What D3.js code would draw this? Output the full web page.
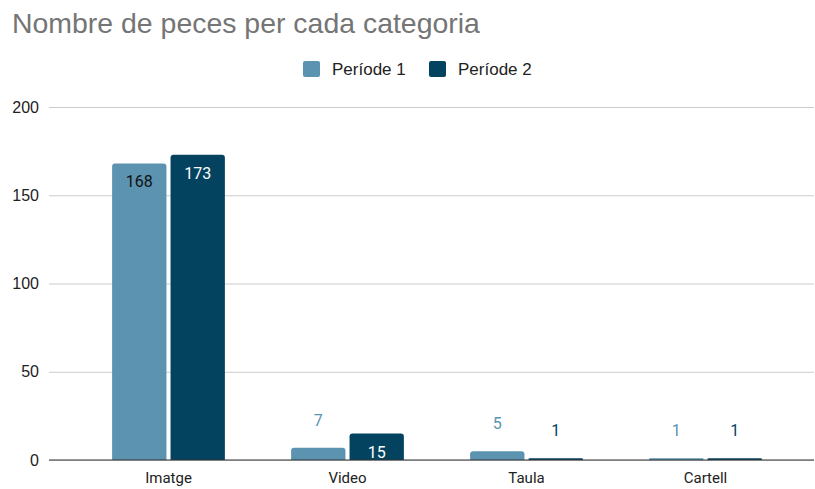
<!DOCTYPE html>
<html>
<head>
<meta charset="utf-8">
<script src="https://cdn.jsdelivr.net/npm/d3@7"></script>
<style>
  html, body { margin: 0; padding: 0; background: #fff; }
  svg { display: block; font-family: Roboto, "Noto Sans", Arial, sans-serif; }
</style>
</head>
<body>
<svg id="chart" width="815" height="489"></svg>
<script>
// Chart data
const categories = ["Imatge", "Video", "Taula", "Cartell"];
const seriesNames = ["Període 1", "Període 2"];
const periode1 = [168, 7, 5, 1];
const periode2 = [173, 15, 1, 1];
const yTicks = [0, 50, 100, 150, 200];
const colors = ["#5b93b0", "#03435f"];
const titleText = "Nombre de peces per cada categoria";

const sansFont = "'Liberation Sans', Arial, sans-serif";
const svg = d3.select("#chart");
const plot = { left: 49, right: 814, top: 107, bottom: 460 };

const y = d3.scaleLinear().domain([0, 200]).range([plot.bottom, plot.top]);
const x = d3.scaleBand().domain(categories).range([79, 795]).paddingInner(0).paddingOuter(0);
const xInner = d3.scaleBand().domain([0, 1]).range([x.bandwidth() * 0.185, x.bandwidth() * 0.815]).paddingInner(0.07);

// Title, sized to span its full header width
const title = svg.append("text")
  .attr("x", 12).attr("y", 33)
  .attr("font-family", sansFont)
  .attr("font-size", 25).attr("fill", "#757575")
  .text(titleText);
const titleLen = title.node().getComputedTextLength();
if (titleLen > 0) title.attr("font-size", 25 * 468 / titleLen);

// Legend
const legend = svg.append("g");
const legendX = [303, 429];
seriesNames.forEach((name, i) => {
  legend.append("rect")
    .attr("x", legendX[i]).attr("y", 61).attr("width", 17).attr("height", 16)
    .attr("rx", 2).attr("fill", colors[i]);
  legend.append("text")
    .attr("x", legendX[i] + 29).attr("y", 75)
    .attr("font-family", sansFont)
    .attr("font-size", 17).attr("fill", "#222")
    .text(name);
});

// Gridlines and y tick labels
const yAxis = d3.axisLeft(y).tickValues(yTicks).tickSize(-(plot.right - plot.left)).tickPadding(10);
const gy = svg.append("g").attr("transform", `translate(${plot.left},0)`).call(yAxis);
gy.select(".domain").remove();
gy.selectAll(".tick line").attr("stroke", "#cccccc").attr("stroke-width", 1);
gy.selectAll(".tick text").attr("font-size", 16).attr("fill", "#222").attr("font-family", sansFont).attr("x", -10);

// Bars with rounded top corners
function barPath(x0, w, yTop, yBase, r) {
  const h = yBase - yTop;
  const rr = Math.min(r, h / 2, w / 2);
  return `M${x0},${yBase}V${yTop + rr}Q${x0},${yTop} ${x0 + rr},${yTop}H${x0 + w - rr}Q${x0 + w},${yTop} ${x0 + w},${yTop + rr}V${yBase}Z`;
}

const seriesData = [periode1, periode2];
const bars = svg.append("g");
const labels = svg.append("g");
seriesData.forEach((vals, s) => {
  vals.forEach((v, i) => {
    const bx = x(categories[i]) + xInner(s);
    const bw = xInner.bandwidth();
    const top = y(v);
    bars.append("path")
      .attr("d", barPath(bx, bw, top, y(0), 3))
      .attr("fill", colors[s]);
    const inside = (y(0) - top) > 24;
    const fill = inside ? (s === 0 ? "#111" : "#fff") : colors[s];
    labels.append("text")
      .attr("x", bx + bw / 2)
      .attr("y", inside ? top + 24 : top - 22)
      .attr("text-anchor", "middle")
      .attr("font-size", 16)
      .attr("fill", fill)
      .text(v);
  });
});

// Baseline axis and category labels
svg.append("line")
  .attr("x1", plot.left).attr("x2", plot.right)
  .attr("y1", y(0)).attr("y2", y(0))
  .attr("stroke", "#333").attr("stroke-width", 1.2);

const xAxis = d3.axisBottom(x).tickSize(0).tickPadding(12);
const gx = svg.append("g").attr("transform", `translate(0,${plot.bottom})`).call(xAxis);
gx.select(".domain").remove();
gx.selectAll(".tick text").attr("font-size", 15).attr("fill", "#222").attr("font-family", "Roboto, sans-serif");
</script>
</body>
</html>
